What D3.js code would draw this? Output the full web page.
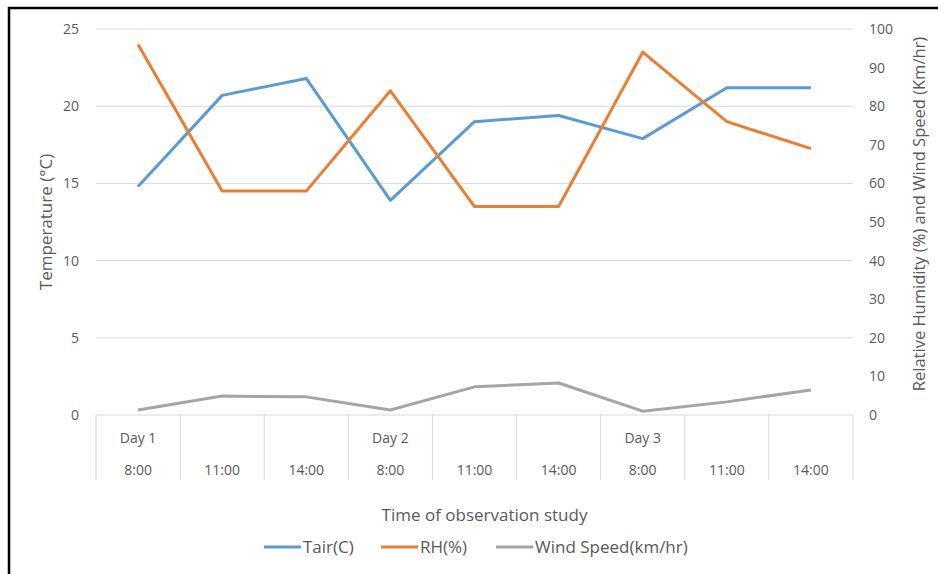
<!DOCTYPE html>
<html>
<head>
<meta charset="utf-8">
<script src="https://cdn.jsdelivr.net/npm/d3@7"></script>
<style>
  body { margin: 0; background: #fff; }
  text { font-family: "Open Sans", "Noto Sans", Arial, sans-serif; fill: #595959; }
</style>
</head>
<body>
<div id="chart"></div>
<script>
//Data////////////////////////////////////////////////////////////////////////
var days = ["Day 1", "", "", "Day 2", "", "", "Day 3", "", ""];
var times = ["8:00", "11:00", "14:00", "8:00", "11:00", "14:00", "8:00", "11:00", "14:00"];
var tair = [14.8, 20.7, 21.8, 13.9, 19.0, 19.4, 17.9, 21.2, 21.2];
var rh = [96, 58, 58, 84, 54, 54, 94, 76, 69];
var wind = [1.3, 4.9, 4.7, 1.3, 7.3, 8.3, 1.0, 3.4, 6.5];
var leftTicks = [0, 5, 10, 15, 20, 25];
var rightTicks = [0, 10, 20, 30, 40, 50, 60, 70, 80, 90, 100];
var seriesNames = ["Tair(C)", "RH(%)", "Wind Speed(km/hr)"];

//Setup///////////////////////////////////////////////////////////////////////
var W = 938, H = 574;
var margin = {top: 29, right: 85, bottom: 159, left: 96},
    width = W - margin.left - margin.right,
    height = H - margin.top - margin.bottom;

var root = d3.select("#chart").append("svg")
  .attr("width", W)
  .attr("height", H);

// outer border
root.append("rect")
  .attr("x", 9).attr("y", 8)
  .attr("width", W).attr("height", H)
  .attr("fill", "none")
  .attr("stroke", "#000")
  .attr("stroke-width", 2.5);

var svg = root.append("g")
  .attr("transform", "translate(" + margin.left + "," + margin.top + ")");

var idx = d3.range(times.length);
var x = d3.scaleBand().domain(idx).range([0, width]);
var yL = d3.scaleLinear().domain([0, 25]).range([height, 0]);
var yR = d3.scaleLinear().domain([0, 100]).range([height, 0]);
var color = d3.scaleOrdinal().domain(seriesNames).range(["#5B9BD5", "#ED7D31", "#A5A5A5"]);

//Gridlines////////////////////////////////////////////////////////////////////
svg.append("g")
  .selectAll("line")
  .data(leftTicks)
  .enter().append("line")
    .attr("x1", 0).attr("x2", width)
    .attr("y1", function(d) { return yL(d); })
    .attr("y2", function(d) { return yL(d); })
    .attr("stroke", "#D9D9D9")
    .attr("stroke-width", 1);

//Axes////////////////////////////////////////////////////////////////////////
var left = svg.append("g")
  .attr("transform", "translate(-14,0)")
  .call(d3.axisLeft(yL).tickValues(leftTicks).tickSize(0));
left.select(".domain").remove();
left.selectAll("text").style("font-size", "14px").style("fill", "#595959");

var right = svg.append("g")
  .attr("transform", "translate(" + (width + 13) + ",0)")
  .call(d3.axisRight(yR).tickValues(rightTicks).tickSize(0));
right.select(".domain").remove();
right.selectAll("text").style("font-size", "14px").style("fill", "#595959");

// category axis: separators and two-level labels
var cat = svg.append("g").attr("transform", "translate(0," + height + ")");
cat.selectAll("line.sep")
  .data(d3.range(times.length + 1))
  .enter().append("line")
    .attr("class", "sep")
    .attr("x1", function(d) { return d * x.bandwidth(); })
    .attr("x2", function(d) { return d * x.bandwidth(); })
    .attr("y1", 0).attr("y2", 65)
    .attr("stroke", "#D9D9D9");

cat.selectAll("text.day")
  .data(idx)
  .enter().append("text")
    .attr("class", "day")
    .attr("x", function(d) { return x(d) + x.bandwidth() / 2; })
    .attr("y", 28)
    .style("text-anchor", "middle")
    .style("font-size", "14px")
    .text(function(d) { return days[d]; });

cat.selectAll("text.time")
  .data(idx)
  .enter().append("text")
    .attr("class", "time")
    .attr("x", function(d) { return x(d) + x.bandwidth() / 2; })
    .attr("y", 60)
    .style("text-anchor", "middle")
    .style("font-size", "14px")
    .text(function(d) { return times[d]; });

// axis titles
svg.append("text")
  .attr("x", width / 2 + 10)
  .attr("y", height + 106)
  .style("text-anchor", "middle")
  .style("font-size", "17px")
  .text("Time of observation study");

svg.append("text")
  .attr("transform", "rotate(-90)")
  .attr("x", -193)
  .attr("y", -44)
  .style("text-anchor", "middle")
  .style("font-size", "17px")
  .text("Temperature (°C)");

svg.append("text")
  .attr("transform", "rotate(-90)")
  .attr("x", -185)
  .attr("y", width + 72)
  .style("text-anchor", "middle")
  .style("font-size", "16.5px")
  .text("Relative Humidity (%) and Wind Speed (Km/hr)");

//Lines///////////////////////////////////////////////////////////////////////
var cx = function(i) { return x(i) + x.bandwidth() / 2; };
var series = [
  {name: seriesNames[0], values: tair, scale: yL},
  {name: seriesNames[1], values: rh, scale: yR},
  {name: seriesNames[2], values: wind, scale: yR}
];

series.forEach(function(s) {
  var line = d3.line()
    .x(function(d, i) { return cx(i); })
    .y(function(d) { return s.scale(d); });
  svg.append("path")
    .datum(s.values)
    .attr("fill", "none")
    .attr("stroke", color(s.name))
    .attr("stroke-width", 3)
    .attr("stroke-linejoin", "round")
    .attr("d", line);
});

//Legend//////////////////////////////////////////////////////////////////////
var legendX = [264, 381, 496];
var legend = root.selectAll(".legend")
  .data(seriesNames)
  .enter().append("g")
  .attr("class", "legend")
  .attr("transform", function(d, i) { return "translate(" + legendX[i] + ",547)"; });

legend.append("line")
  .attr("x1", 0).attr("x2", 37)
  .attr("y1", 0).attr("y2", 0)
  .attr("stroke", function(d) { return color(d); })
  .attr("stroke-width", 3);

legend.append("text")
  .attr("x", 39)
  .attr("dy", "0.35em")
  .style("font-size", "17px")
  .text(function(d) { return d; });
</script>
</body>
</html>
